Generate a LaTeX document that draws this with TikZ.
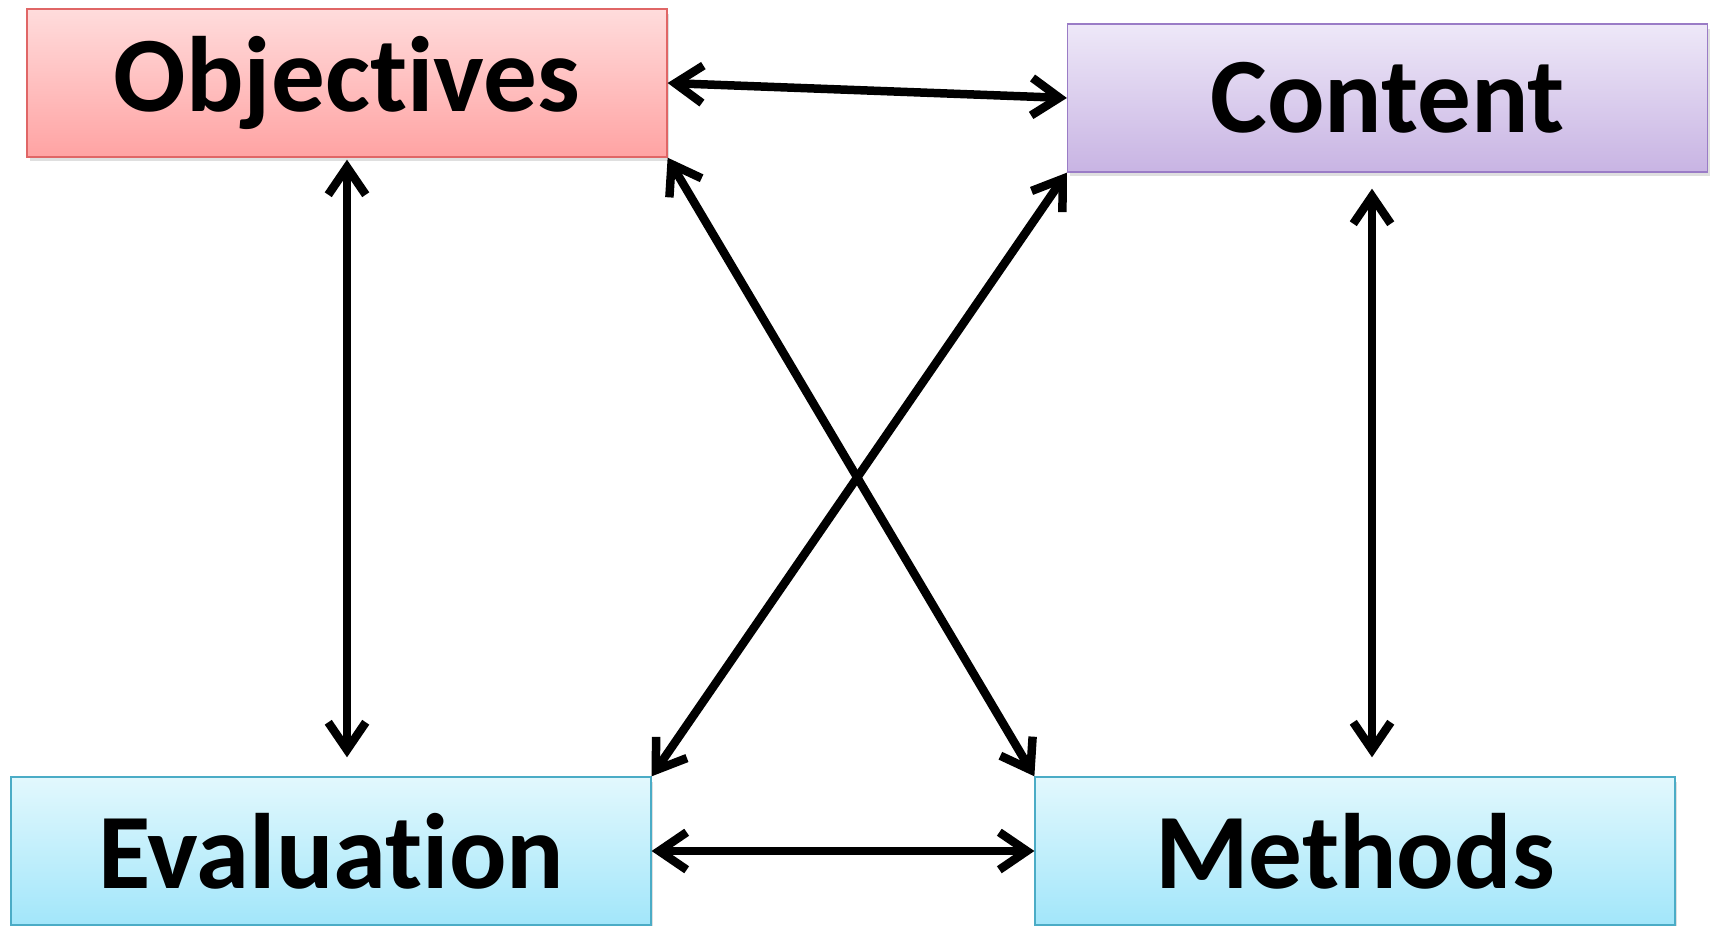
\documentclass[tikz,border=0pt]{standalone}
\usepackage{fontspec}
\setmainfont[Ligatures=NoCommon]{Carlito}
\usetikzlibrary{arrows.meta,shadows}
\definecolor{redtop}{HTML}{FFDCDC}
\definecolor{redbot}{HTML}{FFA3A3}
\definecolor{redline}{HTML}{E06666}
\definecolor{violettop}{HTML}{EEE8F8}
\definecolor{violetbot}{HTML}{C8B4E3}
\definecolor{violetline}{HTML}{9A7CC6}
\definecolor{cyantop}{HTML}{E2F8FD}
\definecolor{cyanbot}{HTML}{A2E6FA}
\definecolor{cyanline}{HTML}{4BACC6}
\begin{document}
\begin{tikzpicture}[x=0.02cm, y=-0.02cm,
    box/.style={draw, line width=0.8pt, minimum width=12.8cm, minimum height=2.96cm,
      inner sep=0pt, font=\fontsize{61}{72}\selectfont\bfseries,
      drop shadow={shadow xshift=0.05cm, shadow yshift=-0.09cm, opacity=0.25}},
    link/.style={line width=0.17cm, line cap=round,
      {Straight Barb[length=0.55cm, width=0.75cm, line width=0.17cm]}-{Straight Barb[length=0.55cm, width=0.75cm, line width=0.17cm]}}]
      \useasboundingbox (0,0) rectangle (1711,926);
      \node[box, top color=redtop, bottom color=redbot, draw=redline] (obj) at (347,83) {Objectives};
      \node[box, top color=violettop, bottom color=violetbot, draw=violetline] (con) at (1387.5,98) {Content};
      \node[box, top color=cyantop, bottom color=cyanbot, draw=cyanline] (eva) at (331,851) {Evaluation};
      \node[box, top color=cyantop, bottom color=cyanbot, draw=cyanline] (met) at (1355,851) {Methods};
      \draw[link] (obj.east) -- (con.west);
      \draw[link] (eva.east) -- (met.west);
      \draw[link, shorten <=0.04cm, shorten >=0.38cm] (obj.south) -- (obj.south |- eva.north);
      \draw[link, shorten <=0.32cm, shorten >=0.38cm] ([xshift=-0.31cm]con.south) -- ([xshift=-0.31cm]con.south |- met.north);
      \draw[link] (obj.south east) -- (met.north west);
      \draw[link] (con.south west) -- (eva.north east);
    \end{tikzpicture}
\end{document}
